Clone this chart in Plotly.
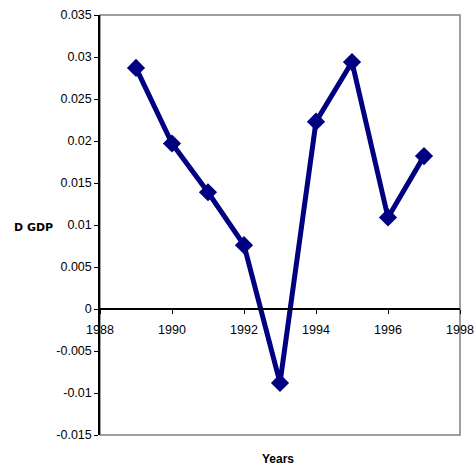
import plotly.graph_objects as go

# Annual change in GDP
years = [1989, 1990, 1991, 1992, 1993, 1994, 1995, 1996, 1997]
d_gdp = [0.0287, 0.0197, 0.0139, 0.0076, -0.0088, 0.0223, 0.0294, 0.0109, 0.0182]

# Axis ticks
x_ticks = [1988, 1990, 1992, 1994, 1996, 1998]
y_ticks = [-0.015, -0.01, -0.005, 0, 0.005, 0.01, 0.015, 0.02, 0.025, 0.03, 0.035]
y_tick_labels = ["-0.015", "-0.01", "-0.005", "0", "0.005", "0.01", "0.015",
                 "0.02", "0.025", "0.03", "0.035"]

NAVY = "#000080"
FONT = "Liberation Sans, Arial, sans-serif"

fig = go.Figure()
fig.add_trace(go.Scatter(
    x=years, y=d_gdp, mode="lines+markers",
    line=dict(color=NAVY, width=5),
    marker=dict(symbol="diamond", size=14, color=NAVY),
    showlegend=False,
))

y_min, y_max = y_ticks[0], y_ticks[-1]
zero_pos = (0 - y_min) / (y_max - y_min)

fig.update_layout(
    width=476, height=466,
    margin=dict(l=100, r=16, t=15, b=31),
    paper_bgcolor="white", plot_bgcolor="white",
    font=dict(family=FONT, size=12.5, color="black"),
    xaxis=dict(
        range=[x_ticks[0], x_ticks[-1]], tickvals=x_ticks,
        showgrid=False, zeroline=False, automargin=False,
        showline=True, linecolor="black", linewidth=1.5,
        ticks="outside", ticklen=4, tickcolor="black",
        ticklabelstandoff=5,
        anchor="free", position=zero_pos,
    ),
    yaxis=dict(
        range=[y_min, y_max], tickvals=y_ticks, ticktext=y_tick_labels,
        showgrid=False, zeroline=False, automargin=False,
        showline=True, linecolor="black", linewidth=1.5,
        ticks="outside", ticklen=4, tickcolor="black",
        domain=[0, 1],
    ),
    shapes=[dict(
        type="rect", xref="paper", yref="paper", x0=0, x1=1, y0=0, y1=1,
        line=dict(color="#808080", width=1.5), layer="below",
    )],
    annotations=[
        dict(text="<b>D GDP</b>", xref="paper", yref="paper",
             x=-0.186, y=0.494, xanchor="center", yanchor="middle",
             showarrow=False,
             font=dict(family="DejaVu Sans, sans-serif", size=11, color="black")),
        dict(text="<b>Years</b>", xref="paper", yref="paper",
             x=0.494, y=-0.057, xanchor="center", yanchor="middle",
             showarrow=False,
             font=dict(family=FONT, size=12, color="black")),
    ],
)

fig.write_html("out.html")
